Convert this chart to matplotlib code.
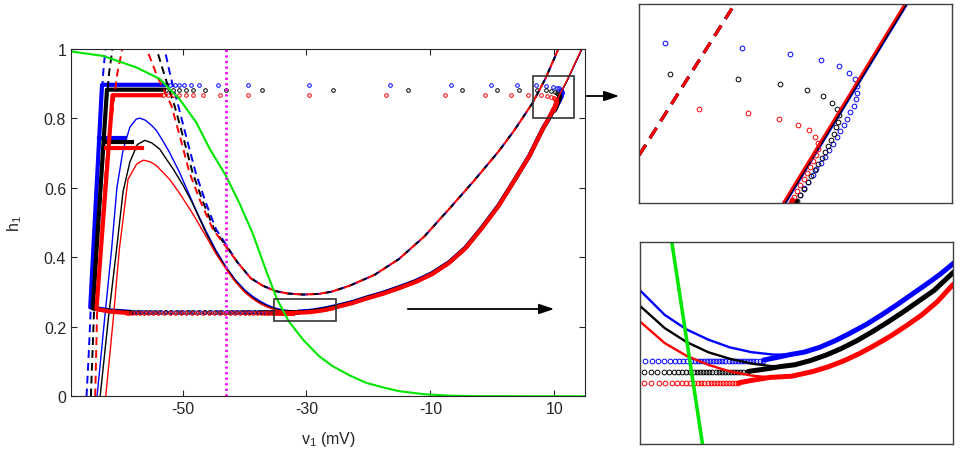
import matplotlib
matplotlib.use('Agg')
import matplotlib.pyplot as plt
from matplotlib.patches import Rectangle, FancyArrowPatch

plt.rcParams['font.family'] = ['Liberation Sans', 'DejaVu Sans']
plt.rcParams['mathtext.default'] = 'regular'
plt.rcParams['axes.unicode_minus'] = False

## values (v in mV, h)
# green steady state curve
green_v = [-68, -62.8, -57.45, -53.7, -50.5, -47.8, -45.6, -43.0, -40.8, -38.7, -36.6, -34.8,
           -32.9, -30.6, -28.0, -25.8, -23.0, -20.4, -17.5, -15.1, -11.0, -7.0, -3.0, 15.0]
green_h = [0.993, 0.98, 0.947, 0.914, 0.856, 0.789, 0.712, 0.635, 0.555, 0.47, 0.366, 0.2815,
           0.217, 0.164, 0.116, 0.087, 0.06, 0.039, 0.025, 0.015, 0.006, 0.002, 0.0005, 0.0]
v_mark = -43.0

# dashed curves: left branch and U branch (the right part is shared)
dashL_h = [0.0, 0.12, 0.24, 0.45, 0.7, 0.933, 1.02]
blue_dashL_v = [-65.5, -65.15, -64.85, -64.35, -63.65, -62.8, -62.35]
black_dashL_v = [-64.8, -64.55, -64.3, -63.75, -62.95, -61.85, -61.15]
red_dashL_v = [-64.1, -63.95, -63.8, -63.25, -62.2, -60.5, -59.5]

dashU_h = [1.02, 1.0, 0.918, 0.837, 0.74, 0.645, 0.56, 0.481]
blue_dashU_v = [-53.2, -52.9, -51.9, -50.7, -49.3, -47.9, -46.3, -44.6]
black_dashU_v = [-54.6, -54.2, -52.8, -51.3, -49.8, -48.4, -46.7, -44.9]
red_dashU_v = [-56.3, -55.8, -54.0, -51.8, -50.3, -48.9, -47.1, -45.1]
dash_tail_v = [-41.1, -39.0, -37.0, -35.0, -33.0, -30.5, -28.0, -26.0, -23.1, -19.0, -15.1,
               -11.0, -7.0, -3.0, 1.0, 3.5, 6.5, 8.56, 10.65, 10.8]
dash_tail_h = [0.385, 0.34, 0.318, 0.303, 0.296, 0.293, 0.295, 0.301, 0.318, 0.35, 0.395,
               0.46, 0.539, 0.62, 0.705, 0.765, 0.845, 0.9147, 1.0, 1.006]

# thin solid curves
blue_thin_v = [-63.8, -62.6, -61.45, -60.6, -59.6, -58.5, -57.5, -56.9, -56.0, -55.0, -54.2, -53.0,
               -52.1, -50.5, -49.4, -47.8, -46.2, -44.6, -43.0, -41.5, -40.0, -38.7, -37.5, -36.4,
               -35.3, -34.5, -33.8, -33.1, -32.4, -31.7, -31.0, -30.45, -30.0, -29.5, -29.0, -28.5,
               -28.0, -27.5, -27.0, -26.5, -26.0, -25.6, -25.2, -24.3, -22.5, -20.4, -17.7, -15.1,
               -12.4, -9.7, -7.0, -4.35, -1.7, 1.0, 3.5, 6.0, 7.3, 8.2, 9.64, 12.23, 14.45, 14.65]
blue_thin_h = [0.0, 0.22, 0.424, 0.6, 0.71, 0.775, 0.798, 0.801, 0.795, 0.78, 0.765, 0.73,
               0.702, 0.645, 0.6, 0.535, 0.475, 0.42, 0.373, 0.336, 0.307, 0.288, 0.274, 0.2635,
               0.2556, 0.2515, 0.2491, 0.2474, 0.2461, 0.2453, 0.2449, 0.2449, 0.2453, 0.2461, 0.2472, 0.2485,
               0.2499, 0.2515, 0.2532, 0.2550, 0.2568, 0.2583, 0.2600, 0.2638, 0.2720, 0.284, 0.298, 0.314,
               0.332, 0.355, 0.386, 0.428, 0.486, 0.550, 0.621, 0.694, 0.741, 0.773, 0.824, 0.9147, 1.0, 1.008]
black_thin_v = [-63.3, -62.0, -60.65, -59.6, -58.5, -57.3, -56.1, -55.0, -53.7, -52.5, -51.5, -50.0,
                -48.5, -46.2, -44.6, -43.0, -41.5, -40.0, -38.7, -37.5, -36.4, -35.3, -34.5, -33.8,
                -33.1, -32.4, -31.7, -31.1, -30.77, -30.3, -29.8, -29.3, -28.8, -28.3, -27.8, -27.3,
                -26.8, -26.3, -25.8, -25.2, -24.3, -22.5, -20.4, -17.7, -15.1, -12.4, -9.7, -7.0,
                -4.35, -1.7, 1.0, 3.5, 6.0, 7.3, 8.2, 9.62, 12.21, 14.43, 14.63]
black_thin_h = [0.0, 0.22, 0.424, 0.59, 0.675, 0.725, 0.737, 0.73, 0.712, 0.68, 0.654, 0.61,
                0.56, 0.47, 0.415, 0.370, 0.333, 0.303, 0.284, 0.270, 0.2605, 0.2530, 0.2493, 0.2470,
                0.2453, 0.2442, 0.2434, 0.2430, 0.2429, 0.2432, 0.2439, 0.2448, 0.2459, 0.2472, 0.2487, 0.2503,
                0.2520, 0.2538, 0.2556, 0.2585, 0.2624, 0.2705, 0.2825, 0.2965, 0.3125, 0.3305, 0.3535, 0.385,
                0.427, 0.485, 0.549, 0.620, 0.693, 0.740, 0.772, 0.824, 0.9147, 1.0, 1.008]
red_thin_v = [-62.4, -61.2, -60.2, -58.8, -57.4, -56.3, -55.2, -54.2, -52.1, -50.5, -48.5, -46.2,
              -44.6, -43.0, -41.5, -40.0, -38.7, -37.5, -36.4, -35.3, -34.5, -33.8, -33.1, -32.4,
              -31.7, -31.1, -30.4, -29.7, -29.2, -28.7, -28.2, -27.7, -27.2, -26.7, -26.2, -25.7,
              -25.2, -24.3, -22.5, -20.4, -17.7, -15.1, -12.4, -9.7, -7.0, -4.35, -1.7, 1.0,
              3.5, 6.0, 7.3, 8.2, 9.59, 12.18, 14.4, 14.6]
red_thin_h = [0.0, 0.22, 0.424, 0.625, 0.669, 0.68, 0.675, 0.664, 0.625, 0.585, 0.53, 0.46,
              0.41, 0.367, 0.330, 0.300, 0.281, 0.267, 0.2575, 0.2504, 0.2468, 0.2447, 0.2432, 0.2421,
              0.2414, 0.2411, 0.2413, 0.2421, 0.2429, 0.2439, 0.2451, 0.2465, 0.2480, 0.2497, 0.2515, 0.2537,
              0.2565, 0.2607, 0.269, 0.281, 0.295, 0.311, 0.329, 0.352, 0.384, 0.426, 0.484, 0.548,
              0.62, 0.693, 0.74, 0.772, 0.824, 0.9147, 1.0, 1.008]

# thick (dense) trajectory parts: right branch
blue_band_v = [-31.3, -30.9, -30.45, -30.0, -29.5, -29.0, -28.5, -28.0, -27.5, -27.0, -26.5, -26.0,
               -25.6, -25.2, -24.3, -22.5, -20.4, -17.7, -15.1, -12.4, -9.7, -7.0, -4.35, -1.7,
               1.0, 3.5, 6.0, 7.3, 8.2, 9.15, 9.85]
blue_band_h = [0.2440, 0.2444, 0.2449, 0.2453, 0.2461, 0.2472, 0.2485, 0.2499, 0.2515, 0.2532, 0.2550, 0.2568,
               0.2583, 0.2600, 0.2638, 0.2720, 0.284, 0.298, 0.314, 0.332, 0.355, 0.386, 0.428, 0.486,
               0.550, 0.621, 0.694, 0.741, 0.773, 0.80, 0.8245]
black_band_v = [-31.8, -31.1, -30.77, -30.3, -29.8, -29.3, -28.8, -28.3, -27.8, -27.3, -26.8, -26.3,
                -25.8, -25.2, -24.3, -22.5, -20.4, -17.7, -15.1, -12.4, -9.7, -7.0, -4.35, -1.7,
                1.0, 3.5, 6.0, 7.3, 8.2, 9.12, 9.88]
black_band_h = [0.2421, 0.2426, 0.2429, 0.2432, 0.2439, 0.2448, 0.2459, 0.2472, 0.2487, 0.2503, 0.2520, 0.2538,
                0.2556, 0.2585, 0.2624, 0.2705, 0.2825, 0.2965, 0.3125, 0.3305, 0.3535, 0.385, 0.427, 0.485,
                0.549, 0.620, 0.693, 0.740, 0.772, 0.80, 0.8248]
red_band_v = [-32.1, -31.7, -31.1, -30.4, -29.7, -29.2, -28.7, -28.2, -27.7, -27.2, -26.7, -26.2,
              -25.7, -25.2, -24.3, -22.5, -20.4, -17.7, -15.1, -12.4, -9.7, -7.0, -4.35, -1.7,
              1.0, 3.5, 6.0, 7.3, 8.2, 9.1, 9.79]
red_band_h = [0.2402, 0.2406, 0.2411, 0.2413, 0.2421, 0.2429, 0.2439, 0.2451, 0.2465, 0.2480, 0.2497, 0.2515,
              0.2537, 0.2565, 0.2607, 0.269, 0.281, 0.295, 0.311, 0.329, 0.352, 0.384, 0.426, 0.484,
              0.548, 0.62, 0.693, 0.74, 0.772, 0.80, 0.8252]

# thick parts on the left: bottom corner, vertical rise, top plateau
blue_left_v = [-58.8, -61.5, -64.9, -63.0, -52.6]
blue_left_h = [0.2438, 0.247, 0.256, 0.897, 0.897]
black_left_v = [-58.5, -61.5, -64.5, -62.2, -53.0]
black_left_h = [0.2420, 0.245, 0.253, 0.883, 0.883]
red_left_v = [-59.0, -61.7, -63.9, -61.3, -53.5]
red_left_h = [0.2401, 0.244, 0.251, 0.867, 0.867]

# short thick plateaus
blue_short_v, blue_short_h = [-63.45, -59.3], [0.745, 0.745]
black_short_v, black_short_h = [-62.75, -58.2], [0.731, 0.731]
red_short_v, red_short_h = [-62.3, -56.5], [0.714, 0.714]

# sparse points along the top
blue_top_v = [-52.1, -51.3, -50.5, -49.7, -48.6, -47.3, -44.3, -39.5, -29.6, -16.6, -6.7, -0.2, 4.0,
              7.07, 8.71, 9.74, 10.39, 10.78, 11.0, 11.12, 11.16, 11.17, 11.14, 11.09, 11.02, 10.96,
              10.88, 10.81, 10.74, 10.65, 10.57, 10.48, 10.39, 10.30, 10.22, 10.12, 10.03, 9.95, 9.85]
blue_top_h = [0.897, 0.897, 0.897, 0.897, 0.897, 0.897, 0.897, 0.897, 0.897, 0.897, 0.897, 0.897, 0.897,
              0.8970, 0.8945, 0.8920, 0.8892, 0.8864, 0.8833, 0.8803, 0.8772, 0.8742, 0.8715, 0.8682,
              0.8654, 0.8624, 0.8596, 0.8566, 0.8540, 0.8510, 0.8480, 0.8449, 0.8424, 0.8393, 0.8366,
              0.8336, 0.8308, 0.8278, 0.8245]
black_top_v = [-52.6, -51.5, -50.5, -49.4, -48.3, -46.4, -43.0, -37.1, -25.8, -13.6, -4.9, 0.8, 4.3,
               7.19, 8.62, 9.53, 10.10, 10.44, 10.63, 10.74, 10.77, 10.75, 10.72, 10.67, 10.61, 10.54,
               10.48, 10.41, 10.33, 10.26, 10.19, 10.11, 10.04, 9.95, 9.88]
black_top_h = [0.883, 0.883, 0.883, 0.883, 0.883, 0.883, 0.883, 0.883, 0.883, 0.883, 0.883, 0.883, 0.883,
               0.8829, 0.8807, 0.8782, 0.8754, 0.8727, 0.8697, 0.8669, 0.8639, 0.8611, 0.8586, 0.8555,
               0.8525, 0.8500, 0.8472, 0.8445, 0.8418, 0.8390, 0.8363, 0.8336, 0.8305, 0.8275, 0.8248]
red_top_v = [-53.2, -52.3, -51.5, -50.5, -49.4, -48.3, -46.7, -44.0, -39.5, -29.6, -17.1, -7.6, -1.25,
             3.0, 5.7, 7.79, 8.84, 9.51, 9.91, 10.15, 10.28, 10.34, 10.33, 10.29, 10.23, 10.16, 10.10,
             10.03, 9.96, 9.89, 9.82, 9.79]
red_top_h = [0.867, 0.867, 0.867, 0.867, 0.867, 0.867, 0.867, 0.867, 0.867, 0.867, 0.867, 0.867, 0.867,
             0.867, 0.867, 0.8669, 0.8648, 0.8622, 0.8596, 0.8571, 0.8543, 0.8515, 0.8487, 0.8460,
             0.8433, 0.8405, 0.8378, 0.8351, 0.8324, 0.8296, 0.8269, 0.8252]

# sparse points along the bottom (one h level per colour)
blue_bot_v = [-58.8, -58.3, -57.8, -57.2, -56.6, -55.9, -55.1, -54.3, -53.5, -52.6, -51.7, -50.8,
              -49.9, -49.0, -48.1, -47.2, -46.3, -45.4, -44.5, -43.6, -42.7, -41.9, -41.1, -40.3,
              -39.6, -38.9, -38.3, -37.7, -37.2, -36.7, -36.2, -35.8, -35.45,
              -35.14, -34.92, -34.71, -34.51, -34.33, -34.17, -34.03, -33.9, -33.77, -33.65, -33.54,
              -33.43, -33.34, -33.24, -33.14, -33.04, -32.94, -32.84, -32.74, -32.64, -32.54, -32.44,
              -32.34, -32.24, -32.14, -32.04, -31.94, -31.84, -31.74, -31.64, -31.54, -31.44, -31.34]
black_bot_v = [-58.5, -58.0, -57.4, -56.8, -56.1, -55.4, -54.6, -53.8, -52.9, -52.0, -51.1, -50.2,
               -49.3, -48.4, -47.5, -46.6, -45.7, -44.8, -43.9, -43.0, -42.2, -41.4, -40.6, -39.9,
               -39.2, -38.5, -37.9, -37.3, -36.8, -36.3, -35.9, -35.5,
               -35.17, -34.95, -34.74, -34.54, -34.36, -34.2, -34.06, -33.93, -33.8, -33.68, -33.57,
               -33.46, -33.36, -33.26, -33.16, -33.06, -32.96, -32.86, -32.76, -32.66, -32.56, -32.46,
               -32.36, -32.26, -32.16, -32.06, -31.96, -31.86]
red_bot_v = [-59.0, -58.6, -58.1, -57.5, -56.9, -56.2, -55.5, -54.7, -53.9, -53.0, -52.1, -51.2,
             -50.3, -49.4, -48.5, -47.6, -46.7, -45.8, -44.9, -44.0, -43.1, -42.3, -41.5, -40.7,
             -40.0, -39.3, -38.6, -38.0, -37.4, -36.9, -36.4, -36.0, -35.6,
             -35.17, -34.93, -34.7, -34.48, -34.28, -34.1, -33.94, -33.8, -33.67, -33.55, -33.44,
             -33.33, -33.22, -33.12, -33.02, -32.92, -32.82, -32.72, -32.62, -32.52, -32.42, -32.32,
             -32.22, -32.12]
blue_bot_h = 0.2438
black_bot_h = 0.2420
red_bot_h = 0.2401

# zoom windows
box1 = (6.52, 13.18, 0.801, 0.923)      # as drawn on the main axes
box2 = (-35.3, -25.2, 0.217, 0.2815)
ins1 = (6.52, 13.18, 0.824, 0.9147)     # limits of the insets
ins2 = (-35.3, -25.2, 0.230, 0.2636)

BLUE, BLACK, RED, GREEN, MAG = '#0000ff', '#000000', '#ff0000', '#00e600', '#ff00ff'

sets = [
    (BLUE, blue_dashL_v, blue_dashU_v, blue_thin_v, blue_thin_h, blue_band_v, blue_band_h,
     blue_left_v, blue_left_h, blue_short_v, blue_short_h, blue_top_v, blue_top_h, blue_bot_v, blue_bot_h),
    (BLACK, black_dashL_v, black_dashU_v, black_thin_v, black_thin_h, black_band_v, black_band_h,
     black_left_v, black_left_h, black_short_v, black_short_h, black_top_v, black_top_h, black_bot_v, black_bot_h),
    (RED, red_dashL_v, red_dashU_v, red_thin_v, red_thin_h, red_band_v, red_band_h,
     red_left_v, red_left_h, red_short_v, red_short_h, red_top_v, red_top_h, red_bot_v, red_bot_h),
]


def draw(a, lw_thin, lw_dash, lw_thick, ms):
    for (c, dl, du, tv, th, bv, bh, lv, lh, sv, sh, pv, ph, qv, qh) in sets:
        a.plot(dl, dashL_h, color=c, lw=lw_dash, dashes=(4, 2.6))
        a.plot(du + dash_tail_v, dashU_h + dash_tail_h, color=c, lw=lw_dash, dashes=(4, 2.6))
        a.plot(tv, th, color=c, lw=lw_thin)
        a.plot(bv, bh, color=c, lw=lw_thick, solid_capstyle='round', solid_joinstyle='round')
        a.plot(lv, lh, color=c, lw=lw_thick, solid_joinstyle='round')
        a.plot(sv, sh, color=c, lw=lw_thick)
        a.plot(pv, ph, 'o', ms=ms, mfc='none', mec=c, mew=0.7, ls='none')
        a.plot(qv, [qh] * len(qv), 'o', ms=ms, mfc='none', mec=c, mew=0.7, ls='none')
    a.plot(green_v, green_h, color=GREEN, lw=lw_thin * 1.5)
    a.axvline(v_mark, color=MAG, lw=2.0, dashes=(0.8, 1.2))


fig = plt.figure(figsize=(9.6, 4.64), dpi=100)
ax = fig.add_axes([0.0740, 0.1437, 0.5357, 0.7485])
ax1 = fig.add_axes([0.6656, 0.5603, 0.3257, 0.4289])
ax2 = fig.add_axes([0.6667, 0.0409, 0.3257, 0.4347])

draw(ax, 1.0, 1.4, 3.0, 2.6)
draw(ax1, 1.7, 2.2, 3.4, 3.4)
draw(ax2, 1.7, 2.2, 3.6, 3.4)

ax.set_xlim(-68, 15)
ax.set_ylim(0, 1)
ax.set_xticks([-50, -30, -10, 10])
ax.set_yticks([0, 0.2, 0.4, 0.6, 0.8, 1])
ax.set_yticklabels(['0', '0.2', '0.4', '0.6', '0.8', '1'])
ax.tick_params(direction='in', top=True, right=True, length=4, width=0.8,
               labelsize=11.5, colors='#262626')
ax.set_xlabel('v$_1$ (mV)', fontsize=11.5, color='#262626', labelpad=9)
ax.set_ylabel('h$_1$', fontsize=11.5, color='#262626', labelpad=14)
for s in ax.spines.values():
    s.set_color('#262626')
    s.set_linewidth(0.8)

for b in (box1, box2):
    ax.add_patch(Rectangle((b[0], b[2]), b[1] - b[0], b[3] - b[2], fill=False,
                           ec='#333333', lw=1.2, zorder=10))

for a, lim in ((ax1, ins1), (ax2, ins2)):
    a.set_xlim(lim[0], lim[1])
    a.set_ylim(lim[2], lim[3])
    a.set_xticks([])
    a.set_yticks([])
    for s in a.spines.values():
        s.set_color('#404040')
        s.set_linewidth(1.0)

# arrows pointing from the boxes to the insets
for x0, x1, y in ((583, 622, 97), (405, 557, 310)):
    fig.add_artist(FancyArrowPatch((x0 / 960, 1 - y / 464), (x1 / 960, 1 - y / 464),
                                   transform=fig.transFigure,
                                   arrowstyle='-|>,head_length=0.9,head_width=0.3',
                                   mutation_scale=10, lw=1.3, color='k'))

fig.savefig('out.png', dpi=100)
